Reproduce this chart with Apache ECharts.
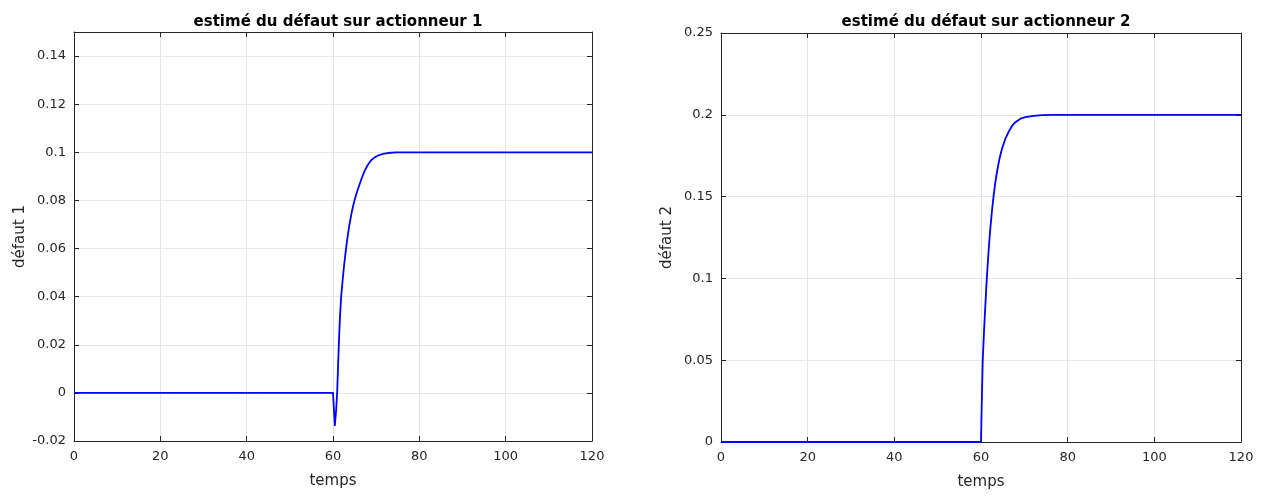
<!DOCTYPE html>
<html>
<head>
<meta charset="utf-8">
<script src="https://cdn.jsdelivr.net/npm/echarts@6/dist/echarts.min.js"></script>
<style>html,body{margin:0;padding:0;background:#fff}#c{width:1262px;height:497px}</style>
</head>
<body>
<div id="c"></div>
<script>
const titles = ['estimé du défaut sur actionneur 1', 'estimé du défaut sur actionneur 2'];
const yNames = ['défaut 1', 'défaut 2'];
const xName = 'temps';
const xTicks = [0, 20, 40, 60, 80, 100, 120];
const y1Ticks = [-0.02, 0, 0.02, 0.04, 0.06, 0.08, 0.1, 0.12, 0.14];
const y2Ticks = [0, 0.05, 0.1, 0.15, 0.2, 0.25];
// défaut 1 estimate: [temps, value]
const fault1 = [
  [0, 0], [60, 0], [60.42, -0.0135], [60.73, -0.0072], [60.96, 0], [61.12, 0.0081],
  [61.35, 0.0201], [61.58, 0.0303], [61.89, 0.04], [62.2, 0.0462], [62.5, 0.0518],
  [62.81, 0.0568], [63.04, 0.0603], [63.43, 0.0655], [63.82, 0.07], [64.35, 0.0752],
  [64.97, 0.08], [65.51, 0.0833], [66.13, 0.0865], [66.67, 0.0893], [67.28, 0.0921],
  [68.05, 0.0947], [68.82, 0.0967], [69.6, 0.0978], [70.36, 0.0986], [71.52, 0.0993],
  [72.68, 0.0997], [74.6, 0.1], [120, 0.1]
];
// défaut 2 estimate: [temps, value]
const fault2 = [
  [0, 0], [60, 0], [60.17, 0.0234], [60.4, 0.05], [60.71, 0.0684], [61.02, 0.0843],
  [61.25, 0.096], [61.55, 0.1088], [61.86, 0.1207], [62.17, 0.131], [62.55, 0.1418],
  [62.94, 0.1512], [63.32, 0.1588], [63.71, 0.1655], [64.25, 0.173], [64.86, 0.1794],
  [65.63, 0.1854], [66.4, 0.1897], [67.17, 0.1932], [67.94, 0.1955], [69.1, 0.1976],
  [70.25, 0.1986], [72.17, 0.1994], [74.1, 0.1998], [77.2, 0.2], [120, 0.2]
];

const dark = '#262626';
const gridCol = '#e6e6e6';
const font = 'DejaVu Sans, sans-serif';

function xAxes(gi) {
  return [{
    gridIndex: gi, type: 'value', min: 0, max: 120, interval: 20, position: 'bottom',
    name: xName, nameLocation: 'middle', nameGap: 33,
    nameTextStyle: {fontFamily: font, fontSize: 15, color: dark},
    axisLine: {onZero: false, lineStyle: {color: dark, width: 1}},
    axisTick: {inside: true, length: 5, lineStyle: {color: dark}},
    axisLabel: {fontFamily: font, fontSize: 13, color: dark, margin: 9},
    splitLine: {show: true, lineStyle: {color: gridCol, width: 1}}
  }, {
    gridIndex: gi, type: 'value', min: 0, max: 120, interval: 20, position: 'top',
    axisLine: {show: true, onZero: false, lineStyle: {color: dark, width: 1}},
    axisTick: {inside: true, length: 5, lineStyle: {color: dark}},
    axisLabel: {show: false}, splitLine: {show: false}
  }];
}
function yAxes(gi, min, max, interval, name, ticks) {
  const top = ticks[ticks.length - 1];
  return [{
    gridIndex: gi, type: 'value', min: min, max: max, interval: interval, position: 'left',
    name: name, nameLocation: 'middle', nameGap: 46, nameRotate: 90,
    nameTextStyle: {fontFamily: font, fontSize: 15, color: dark},
    axisLine: {show: true, onZero: false, lineStyle: {color: dark, width: 1}},
    axisTick: {show: true, inside: true, length: 5, lineStyle: {color: dark}},
    axisLabel: {fontFamily: font, fontSize: 13, color: dark, margin: 8,
      formatter: v => { if (v > top + 1e-9) return ''; return String(parseFloat(v.toFixed(2))); }},
    splitLine: {show: true, lineStyle: {color: gridCol, width: 1}}
  }, {
    gridIndex: gi, type: 'value', min: min, max: max, interval: interval, position: 'right',
    axisLine: {show: true, onZero: false, lineStyle: {color: dark, width: 1}},
    axisTick: {show: true, inside: true, length: 5, lineStyle: {color: dark}},
    axisLabel: {show: false}, splitLine: {show: false}
  }];
}

const chart = echarts.init(document.getElementById('c'), null, {renderer: 'canvas'});
chart.setOption({
  backgroundColor: '#fff',
  animation: false,
  title: [
    {text: titles[0], left: 333, top: 10, textAlign: 'center',
      textStyle: {fontFamily: font, fontSize: 15, fontWeight: 'bold', color: '#000'}},
    {text: titles[1], left: 981, top: 10, textAlign: 'center',
      textStyle: {fontFamily: font, fontSize: 15, fontWeight: 'bold', color: '#000'}}
  ],
  grid: [
    {left: 74, right: 1262 - 592, top: 32, bottom: 497 - 441},
    {left: 721, right: 1262 - 1241, top: 33, bottom: 497 - 442}
  ],
  xAxis: [...xAxes(0), ...xAxes(1)],
  yAxis: [
    ...yAxes(0, -0.02, 0.15, 0.02, yNames[0], y1Ticks),
    ...yAxes(1, 0, 0.25, 0.05, yNames[1], y2Ticks)
  ],
  series: [
    {type: 'line', xAxisIndex: 0, yAxisIndex: 0, data: fault1, showSymbol: false,
      smooth: false, lineStyle: {color: '#0000ff', width: 1.8, join: 'round'}},
    {type: 'line', xAxisIndex: 2, yAxisIndex: 2, data: fault2, showSymbol: false,
      smooth: false, lineStyle: {color: '#0000ff', width: 1.8, join: 'round'}}
  ]
});
</script>
</body>
</html>
